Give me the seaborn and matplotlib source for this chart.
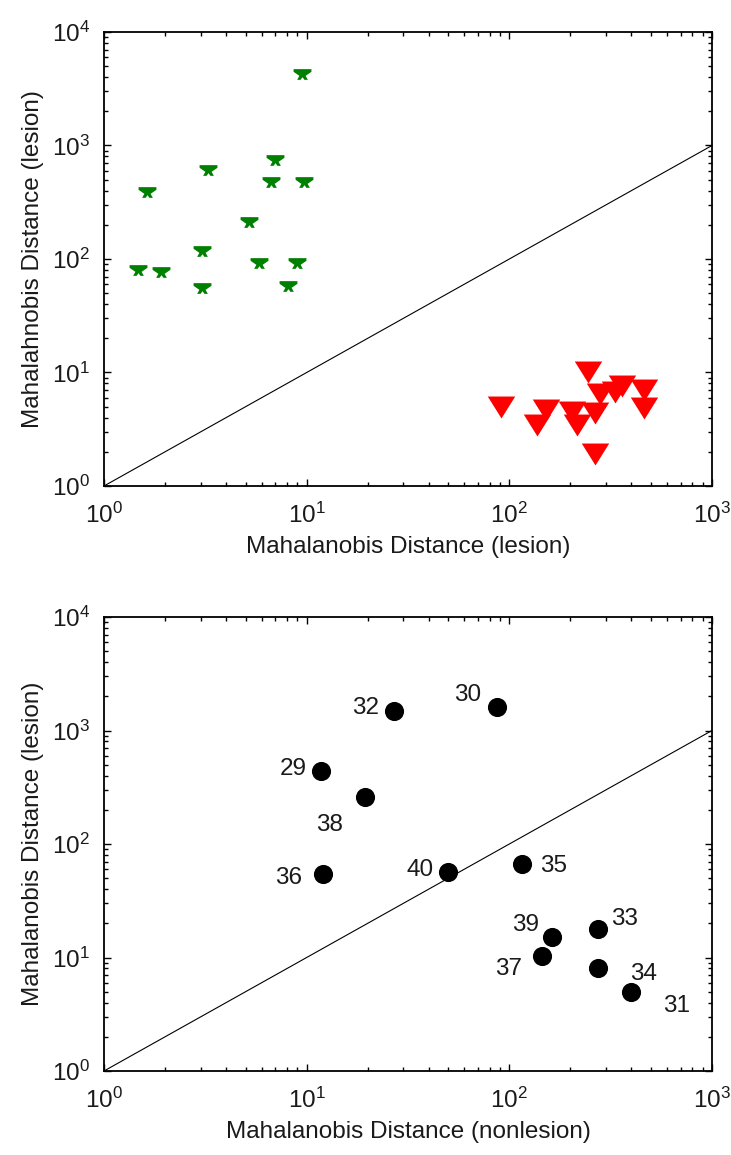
import numpy as np
import pandas as pd
import matplotlib
matplotlib.use("Agg")
import matplotlib.pyplot as plt
from matplotlib.path import Path
from matplotlib.ticker import LogLocator, LogFormatterSciNotation, NullFormatter
import seaborn as sns

# ---- data -------------------------------------------------------------
# top panel: lesion-model distances
green_x = [9.5, 1.63, 3.26, 6.98, 6.67, 9.7, 5.19, 3.04, 1.47, 1.91, 5.82, 8.96, 3.04, 8.09]
green_y = [4270, 390, 608, 745, 477, 477, 212, 118, 80, 77, 92, 92, 55.5, 57.8]

red_x = [245, 90.6, 151, 137, 204, 215, 264, 280, 332, 358, 461, 461, 264]
red_y = [10.1, 5.0, 4.65, 3.47, 4.46, 3.47, 4.44, 6.47, 6.78, 7.56, 7.01, 4.84, 1.93]

# bottom panel: subjects 29-40
subj_ids = ["32", "30", "29", "38", "36", "40", "35", "39", "37", "33", "34", "31"]
subj_x = [27.0, 87.0, 11.8, 19.3, 12.1, 50.0, 115.0, 163.0, 145.0, 275.0, 275.0, 398.0]
subj_y = [1496, 1624, 440, 257, 54.5, 56.2, 66.2, 15.1, 10.35, 17.7, 8.15, 4.92]
# label offsets from each dot (pixels: right, down)
label_dx = [-29, -29, -28, -35, -35, -28, 32, -27, -33, 26, 45, 46]
label_dy = [-3, -12, -2, 28, 4, -2, 2, -12, 13, -10, 6, 14]

diag = [1, 1000]

# ---- style ------------------------------------------------------------
sns.set_theme(style="white")
plt.rcParams["font.family"] = ["Liberation Sans", "DejaVu Sans"]
plt.rcParams["mathtext.fontset"] = "custom"
plt.rcParams["mathtext.rm"] = "Liberation Sans"
plt.rcParams["mathtext.it"] = "Liberation Sans"
plt.rcParams["mathtext.bf"] = "Liberation Sans"

TEXT = "#1a1a1a"
DPI = 100
fig = plt.figure(figsize=(7.31, 11.55), dpi=DPI)
W, H = 731, 1155
ax1 = fig.add_axes([104 / W, 1 - 486 / H, 608 / W, 454 / H])
ax2 = fig.add_axes([104 / W, 1 - 1071 / H, 608 / W, 454 / H])

# anvil-shaped marker for the green series
anvil = Path([(-1, 0.6), (1, 0.6), (1, 0.3), (0.35, -0.15), (0.6, -0.6), (0.22, -0.6),
              (0, -0.3), (-0.22, -0.6), (-0.6, -0.6), (-0.35, -0.15), (-1, 0.3), (-1, 0.6)],
             closed=True)
tri_down = Path([(-1, 0.8), (1, 0.8), (0, -0.8), (-1, 0.8)], closed=True)


def style_axes(ax, xlabel, ylabel):
    ax.set_xscale("log")
    ax.set_yscale("log")
    ax.set_xlim(1, 1000)
    ax.set_ylim(1, 10000)
    for s in ax.spines.values():
        s.set_color("black")
        s.set_linewidth(1.3)
        s.set_visible(True)
    ax.xaxis.set_major_locator(LogLocator(base=10, numticks=10))
    ax.yaxis.set_major_locator(LogLocator(base=10, numticks=10))
    ax.xaxis.set_minor_locator(LogLocator(base=10, subs=np.arange(2, 10), numticks=20))
    ax.yaxis.set_minor_locator(LogLocator(base=10, subs=np.arange(2, 10), numticks=20))
    ax.xaxis.set_major_formatter(LogFormatterSciNotation())
    ax.yaxis.set_major_formatter(LogFormatterSciNotation())
    ax.xaxis.set_minor_formatter(NullFormatter())
    ax.yaxis.set_minor_formatter(NullFormatter())
    ax.tick_params(which="both", direction="in", top=True, right=True, bottom=True, left=True,
                   color="black", width=1.0)
    ax.tick_params(which="major", length=5, labelsize=17.5, labelcolor=TEXT)
    ax.tick_params(axis="x", which="major", pad=12)
    ax.tick_params(axis="y", which="major", pad=10)
    ax.tick_params(which="minor", length=3)
    ax.set_xlabel(xlabel, fontsize=17.5, labelpad=6, color=TEXT)
    ax.set_ylabel(ylabel, fontsize=17.5, labelpad=6, color=TEXT)
    ax.grid(False)


# ---- top panel --------------------------------------------------------
sns.lineplot(x=diag, y=diag, ax=ax1, color="black", linewidth=0.8)
sns.scatterplot(x=green_x, y=green_y, ax=ax1, marker=anvil, s=165,
                color="#008000", edgecolor="#008000", linewidth=0)
sns.scatterplot(x=red_x, y=red_y, ax=ax1, marker=tri_down, s=390,
                color="#ff0000", edgecolor="#ff0000", linewidth=0)
style_axes(ax1, "Mahalanobis Distance (lesion)", "Mahalahnobis Distance (lesion)")

# ---- bottom panel -----------------------------------------------------
sns.lineplot(x=diag, y=diag, ax=ax2, color="black", linewidth=0.8)
sns.scatterplot(x=subj_x, y=subj_y, ax=ax2, marker="o", s=190,
                color="black", edgecolor="black", linewidth=0)
for lab, x, y, dx, dy in zip(subj_ids, subj_x, subj_y, label_dx, label_dy):
    ax2.annotate(lab, (x, y), xytext=(dx * 72 / DPI, -dy * 72 / DPI),
                 textcoords="offset points", ha="center", va="center",
                 fontsize=17.5, color=TEXT)
style_axes(ax2, "Mahalanobis Distance (nonlesion)", "Mahalanobis Distance (lesion)")

fig.savefig("out.png", dpi=DPI)
